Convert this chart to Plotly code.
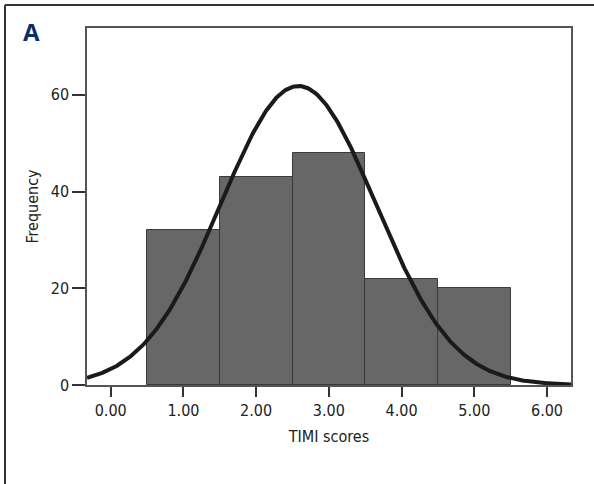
import numpy as np
import plotly.graph_objects as go

# Histogram data (TIMI scores)
score_bins = [1, 2, 3, 4, 5]
frequencies = [32, 43, 48, 22, 20]

# Fitted normal curve parameters
curve_mean = 2.58
curve_sd = 1.065
curve_n = sum(frequencies)
bin_width = 1.0

x_ticks = [0, 1, 2, 3, 4, 5, 6]
x_tick_labels = ["0.00", "1.00", "2.00", "3.00", "4.00", "5.00", "6.00"]
y_ticks = [0, 20, 40, 60]

x_range = [-0.326, 6.33]
y_range = [0, 73.8]

xc = np.linspace(x_range[0], x_range[1], 400)
yc = curve_n * bin_width / (curve_sd * np.sqrt(2 * np.pi)) * np.exp(-0.5 * ((xc - curve_mean) / curve_sd) ** 2)

FONT = "DejaVu Sans Condensed, Liberation Sans Narrow, Roboto, sans-serif"
FS = 16

fig = go.Figure()
fig.add_trace(go.Bar(
    x=score_bins, y=frequencies, width=bin_width,
    marker=dict(color="#676767", line=dict(color="#3a3a3a", width=1)),
    showlegend=False, hoverinfo="skip",
))
fig.add_trace(go.Scatter(
    x=xc, y=yc, mode="lines",
    line=dict(color="#1a1a1a", width=4),
    showlegend=False, hoverinfo="skip",
))

fig.update_layout(
    width=594, height=484,
    margin=dict(l=87, r=23, t=28, b=99),
    paper_bgcolor="white", plot_bgcolor="white",
    font=dict(family=FONT, size=FS, color="#222"),
    bargap=0,
    xaxis=dict(
        range=x_range, tickvals=x_ticks, ticktext=x_tick_labels,
        ticks="outside", ticklen=10, tickwidth=2, tickcolor="#333",
        showline=True, linecolor="#555", linewidth=1.5, mirror=True,
        showgrid=False, zeroline=False,
        title=dict(text="TIMI scores", font=dict(family=FONT, size=FS), standoff=12),
    ),
    yaxis=dict(
        range=y_range, tickvals=y_ticks,
        ticks="outside", ticklen=13, tickwidth=2, tickcolor="#333",
        showline=True, linecolor="#555", linewidth=1.5, mirror=True,
        showgrid=False, zeroline=False,
        title=dict(text="Frequency", font=dict(family=FONT, size=FS), standoff=8),
    ),
    shapes=[
        dict(type="line", xref="paper", yref="paper",
             x0=(5 - 87) / 484, x1=(600 - 87) / 484,
             y0=(385 - 5) / 357, y1=(385 - 5) / 357,
             line=dict(color="#333", width=2)),
        dict(type="line", xref="paper", yref="paper",
             x0=(5 - 87) / 484, x1=(5 - 87) / 484,
             y0=(385 - 5) / 357, y1=(385 - 490) / 357,
             line=dict(color="#333", width=2)),
    ],
    annotations=[
        dict(text="<b>A</b>", xref="paper", yref="paper",
             x=(31 - 87) / 484, y=(385 - 32) / 357,
             xanchor="center", yanchor="middle", showarrow=False,
             font=dict(family="Open Sans, DejaVu Sans, sans-serif", size=24, color="#0c2d6b")),
    ],
)

fig.write_html(
    "out.html",
    config={"displayModeBar": False},
    post_script="document.body.style.margin='0';document.body.style.overflow='hidden';",
)
